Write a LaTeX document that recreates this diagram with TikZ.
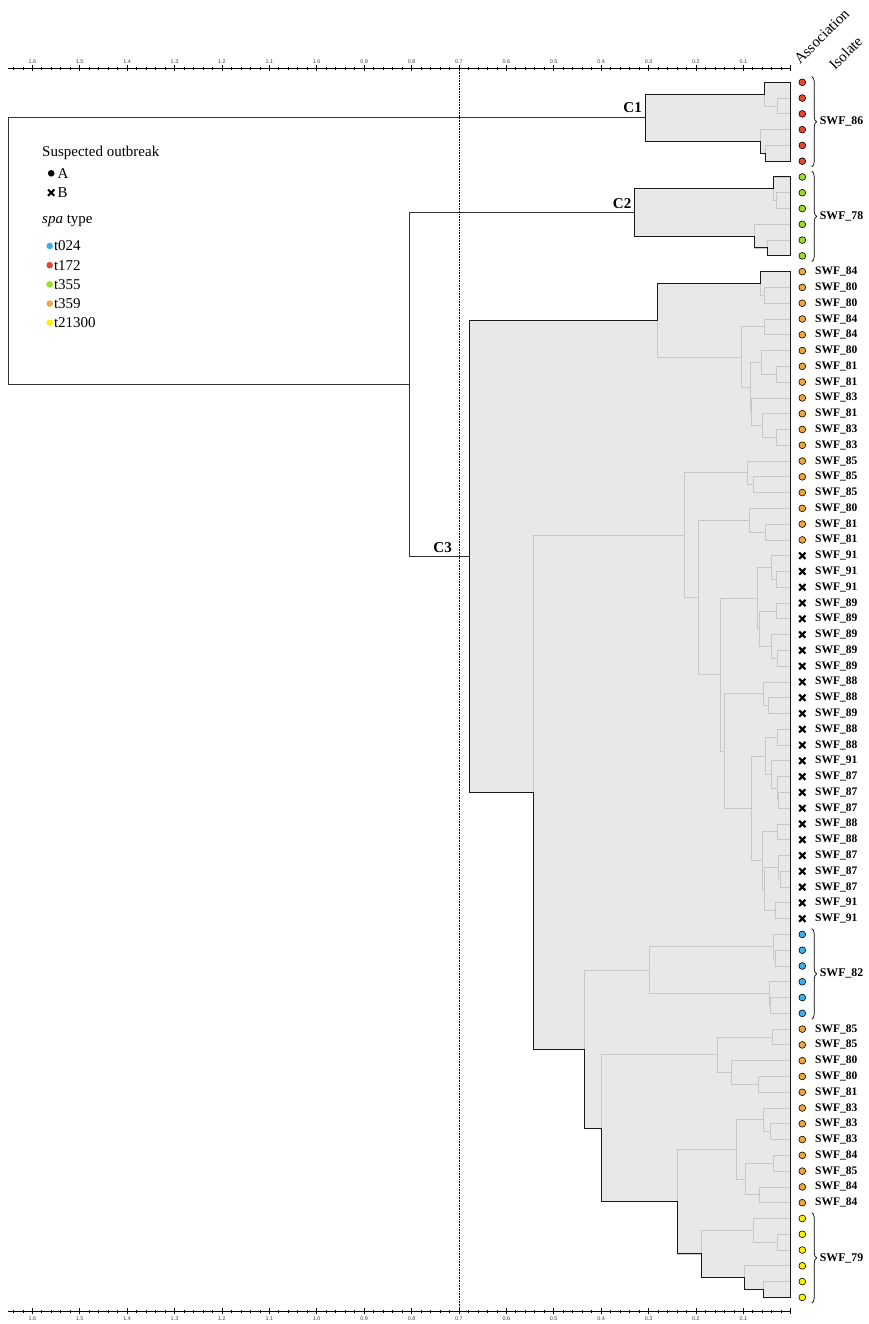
\documentclass[tikz,border=0pt]{standalone}
\usepackage{fontspec}
\setmainfont{Liberation Serif}
\newfontfamily\axisfont{Liberation Sans}
\usetikzlibrary{calc,decorations.pathreplacing,shapes.misc}
\pgfdeclarelayer{bg}
\pgfsetlayers{bg,main}

\definecolor{fillgray}{RGB}{232,232,232}
\definecolor{branchgray}{RGB}{200,200,200}
\definecolor{spablue}{RGB}{58,176,236}
\definecolor{spared}{RGB}{232,70,48}
\definecolor{spagreen}{RGB}{156,220,38}
\definecolor{spaorange}{RGB}{242,166,58}
\definecolor{spayellow}{RGB}{255,240,0}

% join upper child #4 and lower child #5 at x = #3, new node is #2
\newcommand{\joinclust}[5][branch]{%
  \path let \p1=(#4), \p2=(#5) in ({#3pt},{0.5*\y1+0.5*\y2}) coordinate (#2);
  \draw[#1] (#4) -- (#4 -| #2) -- (#5 -| #2) -- (#5);
}

\begin{document}
\begin{tikzpicture}[x=1pt,y=-1pt,
  branch/.style={draw=branchgray, line width=0.8pt},
  outline/.style={draw=black!90, line width=1pt, line join=miter},
  trunk/.style={draw=black!80, line width=0.8pt},
  axisline/.style={draw=black, line width=0.6pt},
  ticklab/.style={inner sep=0pt, font=\axisfont\fontsize{5.4}{6}\selectfont, text=black!75},
  leaflab/.style={anchor=west, inner sep=0pt, font=\fontsize{11.5}{12}\selectfont\bfseries},
  bracelab/.style={anchor=west, inner sep=0pt, font=\fontsize{11.8}{12}\selectfont\bfseries},
  clab/.style={anchor=base east, inner sep=0pt, font=\fontsize{15}{18}\selectfont\bfseries},
  legtext/.style={anchor=west, inner sep=0pt, font=\fontsize{15}{18}\selectfont},
  headlab/.style={anchor=base west, inner sep=0pt, rotate=45, font=\fontsize{15}{18}\selectfont},
  dotm/.style={circle, draw=black, line width=0.6pt, minimum size=6.8pt, inner sep=0pt},
  legdot/.style={circle, inner sep=0pt, minimum size=6.6pt},
  crossm/.style={cross out, draw=black, line width=2.1pt, minimum size=4.2pt, inner sep=0pt},
  grpbrace/.style={decorate, decoration={brace, amplitude=5pt}, line width=0.7pt}]
\useasboundingbox (0,0) rectangle (868,1324);

% Leaves
\foreach \i in {0,...,77}
  \coordinate (l\i) at (790.7,{82.3+15.78*\i});

% Cluster C1
\joinclust{a1}{777.7}{l1}{l2}
\joinclust{a2}{764.3}{l0}{a1}
\joinclust{a3}{765.7}{l4}{l5}
\joinclust{a4}{760.0}{l3}{a3}
\joinclust{c1}{645.0}{a2}{a4}

% Cluster C2
\joinclust{b1}{776.7}{l7}{l8}
\joinclust{b2}{773.3}{l6}{b1}
\joinclust{b3}{767.3}{l10}{l11}
\joinclust{b4}{754.3}{l9}{b3}
\joinclust{c2}{634.3}{b2}{b4}

% Cluster C3, top part
\joinclust{n1314}{764.3}{l13}{l14}
\joinclust{n1214}{760.3}{l12}{n1314}
\joinclust{n1516}{764.3}{l15}{l16}
\joinclust{n1819}{776.0}{l18}{l19}
\joinclust{n1719}{761.0}{l17}{n1819}
\joinclust{n2223}{776.0}{l22}{l23}
\joinclust{n2123}{762.7}{l21}{n2223}
\joinclust{n2023}{751.7}{l20}{n2123}
\joinclust{n1723}{750.0}{n1719}{n2023}
\joinclust{n1523}{741.7}{n1516}{n1723}
\joinclust{p1}{657.7}{n1214}{n1523}

% Cluster C3, middle part
\joinclust{n2526}{753.7}{l25}{l26}
\joinclust{n2426}{747.7}{l24}{n2526}
\joinclust{n2829}{765.7}{l28}{l29}
\joinclust{n2729}{749.3}{l27}{n2829}
\joinclust{n3132}{776.0}{l31}{l32}
\joinclust{n3032}{771.7}{l30}{n3132}
\joinclust{n3334}{776.7}{l33}{l34}
\joinclust{n3637}{777.7}{l36}{l37}
\joinclust{n3537}{771.7}{l35}{n3637}
\joinclust{n3337}{759.3}{n3334}{n3537}
\joinclust{n3037}{757.3}{n3032}{n3337}
\joinclust{n3940}{768.3}{l39}{l40}
\joinclust{n3840}{763.3}{l38}{n3940}
\joinclust{n4142}{777.7}{l41}{l42}
\joinclust{n4546}{778.7}{l45}{l46}
\joinclust{n4446}{777.3}{l44}{n4546}
\joinclust{n4346}{771.0}{l43}{n4446}
\joinclust{n4146}{765.7}{n4142}{n4346}
\joinclust{n4748}{777.7}{l47}{l48}
\joinclust{n5051}{780.0}{l50}{l51}
\joinclust{n4951}{778.3}{l49}{n5051}
\joinclust{n5253}{775.7}{l52}{l53}
\joinclust{n4953}{764.3}{n4951}{n5253}
\joinclust{n4753}{762.7}{n4748}{n4953}
\joinclust{n4153}{751.0}{n4146}{n4753}
\joinclust{n3853}{724.7}{n3840}{n4153}
\joinclust{n3053}{720.7}{n3037}{n3853}
\joinclust{p3}{698.3}{n2729}{n3053}
\joinclust{p2}{684.0}{n2426}{p3}

% Cluster C3, bottom part
\joinclust{n5556}{775.0}{l55}{l56}
\joinclust{n5456}{773.3}{l54}{n5556}
\joinclust{n5859}{770.7}{l58}{l59}
\joinclust{n5759}{769.3}{l57}{n5859}
\joinclust{n5459}{649.3}{n5456}{n5759}
\joinclust{n6061}{772.3}{l60}{l61}
\joinclust{n6364}{758.3}{l63}{l64}
\joinclust{n6264}{731.7}{l62}{n6364}
\joinclust{n6064}{717.3}{n6061}{n6264}
\joinclust{n6667}{770.7}{l66}{l67}
\joinclust{n6567}{763.3}{l65}{n6667}
\joinclust{n6869}{773.3}{l68}{l69}
\joinclust{n7071}{759.0}{l70}{l71}
\joinclust{n6871}{745.7}{n6869}{n7071}
\joinclust{n6571}{736.3}{n6567}{n6871}
\joinclust{n7374}{777.3}{l73}{l74}
\joinclust{n7274}{753.3}{l72}{n7374}
\joinclust{n7677}{763.3}{l76}{l77}
\joinclust{n7577}{744.3}{l75}{n7677}
\joinclust{n7277}{701.7}{n7274}{n7577}
\joinclust{p7}{677.7}{n6571}{n7277}
\joinclust{p6}{601.7}{n6064}{p7}
\joinclust{p5}{584.3}{n5459}{p6}
\joinclust{p4}{533.3}{p2}{p5}
\joinclust{c3}{469.7}{p1}{p4}

% Upper levels
\joinclust[trunk]{c23}{409.7}{c2}{c3}
\joinclust[trunk]{root}{8.0}{c1}{c23}

% Shaded clusters
\begin{pgfonlayer}{bg}
  \fill[fillgray] (c1 |- a2) -- (a2) -- (a2 |- l0) -- (l0) -- (l5) -- (a3 |- l5) -- (a3) -- (a4 |- a3) -- (a4) -- (c1 |- a4) -- cycle;
  \fill[fillgray] (c2 |- b2) -- (b2) -- (b2 |- l6) -- (l6) -- (l11) -- (b3 |- l11) -- (b3) -- (b4 |- b3) -- (b4) -- (c2 |- b4) -- cycle;
  \fill[fillgray] (c3 |- p1) -- (p1) -- (p1 |- n1214) -- (n1214) -- (n1214 |- l12) -- (l12) -- (l77) -- (n7677 |- l77) -- (n7677) -- (n7577 |- n7677) -- (n7577) -- (n7277 |- n7577) -- (n7277) -- (p7 |- n7277) -- (p7) -- (p6 |- p7) -- (p6) -- (p5 |- p6) -- (p5) -- (p4 |- p5) -- (p4) -- (c3 |- p4) -- cycle;
\end{pgfonlayer}

% Cluster outlines
\draw[outline] (c1 |- a2) -- (a2) -- (a2 |- l0) -- (l0) -- (l5) -- (a3 |- l5) -- (a3) -- (a4 |- a3) -- (a4) -- (c1 |- a4) -- cycle;
\draw[outline] (c2 |- b2) -- (b2) -- (b2 |- l6) -- (l6) -- (l11) -- (b3 |- l11) -- (b3) -- (b4 |- b3) -- (b4) -- (c2 |- b4) -- cycle;
\draw[outline] (c3 |- p1) -- (p1) -- (p1 |- n1214) -- (n1214) -- (n1214 |- l12) -- (l12) -- (l77) -- (n7677 |- l77) -- (n7677) -- (n7577 |- n7677) -- (n7577) -- (n7277 |- n7577) -- (n7277) -- (p7 |- n7277) -- (p7) -- (p6 |- p7) -- (p6) -- (p5 |- p6) -- (p5) -- (p4 |- p5) -- (p4) -- (c3 |- p4) -- cycle;

% Cluster labels
\node[clab] (lc1) at (642,113) {C1};
\node[clab] (lc2) at (631.5,208.3) {C2};
\node[clab] (lc3) at (452,552.5) {C3};

% Axes
\foreach \ya/\yl/\s in {68.5/61.5/top, 1311/1318.5/bot} {
  \draw[axisline] (8,\ya) -- (790.7,\ya);
  \foreach \k in {1,...,82}
    \draw[axisline] ({790.7-9.48*\k},\ya-1.5) -- ++(0,3);
  \foreach \k in {0,...,16}
    \draw[axisline] ({790.7-47.4*\k},\ya-3) -- ++(0,6);
  \foreach \k/\t in {1/0.1,2/0.2,3/0.3,4/0.4,5/0.5,6/0.6,7/0.7,8/0.8,9/0.9,10/1.0,11/1.1,12/1.2,13/1.3,14/1.4,15/1.5,16/1.6}
    \node[ticklab] (ax\s\k) at ({790.7-47.4*\k},\yl) {\t};
}

% Cut-off line
\draw[densely dotted, line width=0.6pt] (458.9,68.5) -- (458.9,1311);

% Markers and isolate labels
\foreach \i in {0,...,5}
  \node[dotm, fill=spared] (mk\i) at ($(l\i)+(11.6,0)$) {};
\foreach \i in {6,...,11}
  \node[dotm, fill=spagreen] (mk\i) at ($(l\i)+(11.6,0)$) {};
\foreach \i in {54,...,59}
  \node[dotm, fill=spablue] (mk\i) at ($(l\i)+(11.6,0)$) {};
\foreach \i in {72,...,77}
  \node[dotm, fill=spayellow] (mk\i) at ($(l\i)+(11.6,0)$) {};
\foreach \i/\n in {12/84,13/80,14/80,15/84,16/84,17/80,18/81,19/81,20/83,21/81,22/83,23/83,24/85,25/85,26/85,27/80,28/81,29/81,60/85,61/85,62/80,63/80,64/81,65/83,66/83,67/83,68/84,69/85,70/84,71/84} {
  \node[dotm, fill=spaorange] (mk\i) at ($(l\i)+(11.6,0)$) {};
  \node[leaflab] (lab\i) at ($(l\i)+(24.3,0)$) {SWF\_\n};
}
\foreach \i/\n in {30/91,31/91,32/91,33/89,34/89,35/89,36/89,37/89,38/88,39/88,40/89,41/88,42/88,43/91,44/87,45/87,46/87,47/88,48/88,49/87,50/87,51/87,52/91,53/91} {
  \node[crossm] (mk\i) at ($(l\i)+(11.6,0)$) {};
  \node[leaflab] (lab\i) at ($(l\i)+(24.3,0)$) {SWF\_\n};
}

% Braces for grouped isolates
\foreach \a/\b/\n in {0/5/86, 6/11/78, 54/59/82, 72/77/79} {
  \draw[grpbrace] ($(l\a)+(21,-5.8)$) -- ($(l\b)+(21,5.8)$);
  \node[bracelab] (grp\n) at ($(l\a)!0.5!(l\b)+(29,0)$) {SWF\_\n};
}

% Column heads
\node[headlab] (hassoc) at (800,65) {Association};
\node[headlab] (hiso) at (835,71) {Isolate};

% Legend
\node[legtext] (legtitle) at (42,152.7) {Suspected outbreak};
\node[legdot, fill=black] (legAmk) at (51.2,173.3) {};
\node[legtext] (legA) at (57.5,173.3) {A};
\node[crossm] (legBmk) at (51.2,192.7) {};
\node[legtext] (legB) at (57.5,192.7) {B};
\node[legtext] (legspa) at (42,220.7) {\textit{spa} type};
\foreach \c/\t/\y in {spablue/t024/246, spared/t172/265.2, spagreen/t355/284.4, spaorange/t359/303.6, spayellow/t21300/322.8} {
  \node[legdot, fill=\c] (mk\t) at (49.7,\y) {};
  \node[legtext] (leg\t) at (53.8,\y) {\t};
}
\end{tikzpicture}
\end{document}
